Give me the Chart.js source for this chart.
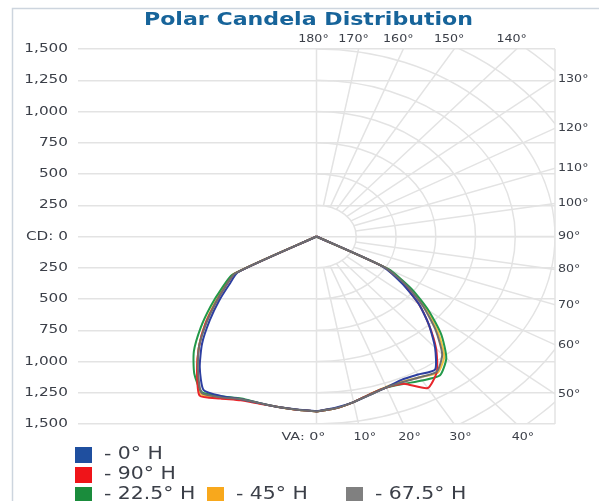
<!DOCTYPE html>
<html>
<head>
<meta charset="utf-8">
<title>Polar Candela Distribution</title>
<script src="https://cdn.jsdelivr.net/npm/chart.js@4.4.0/dist/chart.umd.min.js"></script>
<style>
  html, body { margin: 0; padding: 0; background: #fff; }
  #wrap { width: 599px; height: 501px; position: relative; }
</style>
</head>
<body>
<div id="wrap"><canvas id="polarChart"></canvas></div>
<script>
// Vertical angles (deg from nadir) and candela values
const vertAngles = [0, 5, 10, 15, 20, 25, 30, 35, 40, 45, 50, 55, 60, 65, 70, 75, 80, 85, 90];

// right half = the named plane, left half = the opposite plane
const cd0HRight = [1398, 1375, 1345, 1310, 1285, 1265, 1275, 1300, 1160, 1000, 840, 660, 480, 0, 0, 0, 0, 0, 0];
const cd0HLeft = [1398, 1390, 1385, 1380, 1385, 1410, 1420, 1280, 1120, 950, 800, 670, 570, 0, 0, 0, 0, 0, 0];
const cd90HRight = [1400, 1380, 1345, 1305, 1285, 1300, 1400, 1320, 1170, 1000, 840, 670, 490, 0, 0, 0, 0, 0, 0];
const cd90HLeft = [1400, 1392, 1385, 1385, 1395, 1430, 1470, 1310, 1150, 990, 830, 700, 590, 0, 0, 0, 0, 0, 0];
const cd225HRight = [1400, 1380, 1345, 1305, 1285, 1300, 1330, 1355, 1270, 1110, 920, 730, 520, 0, 0, 0, 0, 0, 0];
const cd225HLeft = [1400, 1392, 1385, 1380, 1380, 1410, 1440, 1340, 1200, 1030, 870, 730, 610, 0, 0, 0, 0, 0, 0];
const cd45HRight = [1400, 1380, 1345, 1305, 1280, 1280, 1300, 1330, 1250, 1080, 900, 710, 510, 0, 0, 0, 0, 0, 0];
const cd45HLeft = [1400, 1392, 1385, 1382, 1388, 1425, 1455, 1310, 1150, 990, 840, 710, 600, 0, 0, 0, 0, 0, 0];
const cd675HRight = [1400, 1380, 1345, 1310, 1285, 1285, 1300, 1320, 1230, 1060, 880, 700, 500, 0, 0, 0, 0, 0, 0];
const cd675HLeft = [1400, 1392, 1385, 1380, 1385, 1420, 1445, 1300, 1150, 980, 830, 700, 590, 0, 0, 0, 0, 0, 0];

// axis labels
const cdTicks = [-1500, -1250, -1000, -750, -500, -250, 0, 250, 500, 750, 1000, 1250, 1500];
const gridAngles = [10, 20, 30, 40, 50, 60, 70, 80, 90, 100, 110, 120, 130, 140, 150, 160, 170];
const labelAngles = [0, 10, 20, 30, 40, 50, 60, 70, 80, 90, 100, 110, 120, 130, 140, 150, 160, 170, 180];
const ringValues = [250, 500, 750, 1000, 1250, 1500, 1750, 2000, 2250];

const FONT = "'DejaVu Sans', Verdana, sans-serif";
const GRID = "#e3e3e3";
const LABEL = "#3b3f48";
// the source picture is stretched sideways, text too
const STRETCH = 1.27;

const rad = (d) => d * Math.PI / 180;

// left half runs 90 -> 0, right half 0 -> 90
function toPoints(left, right) {
  const pts = [];
  for (let i = vertAngles.length - 1; i >= 0; i--) {
    const a = rad(vertAngles[i]);
    pts.push({ x: -left[i] * Math.sin(a), y: -left[i] * Math.cos(a) });
  }
  for (let i = 0; i < vertAngles.length; i++) {
    const a = rad(vertAngles[i]);
    pts.push({ x: right[i] * Math.sin(a), y: -right[i] * Math.cos(a) });
  }
  return pts;
}

function wideText(ctx, text, x, y, align, sx) {
  ctx.save();
  ctx.translate(x, y);
  ctx.scale(sx, 1);
  ctx.textAlign = align;
  ctx.fillText(text, 0, 0);
  ctx.restore();
}

const series = [
  { label: "- 67.5° H", color: "#6e6e6e", left: cd675HLeft, right: cd675HRight },
  { label: "- 0° H", color: "#2d3fa0", left: cd0HLeft, right: cd0HRight },
  { label: "- 90° H", color: "#e8262b", left: cd90HLeft, right: cd90HRight },
  { label: "- 22.5° H", color: "#23994a", left: cd225HLeft, right: cd225HRight },
  { label: "- 45° H", color: "#f2c040", left: cd45HLeft, right: cd45HRight },
];

// legend layout (rows as in the picture)
const legendItems = [
  { name: "- 0° H", color: "#1f4f9f", x: 75, y: 455 },
  { name: "- 90° H", color: "#ef1419", x: 75, y: 475 },
  { name: "- 22.5° H", color: "#1a8c3c", x: 75, y: 495 },
  { name: "- 45° H", color: "#f8a81c", x: 207, y: 495 },
  { name: "- 67.5° H", color: "#808080", x: 346, y: 495 },
];

// polar grid, labels, title, legend and frame
const polarDecor = {
  id: "polarDecor",
  beforeDatasetsDraw(chart) {
    const { ctx, chartArea, scales } = chart;
    const xs = scales.x, ys = scales.y;
    const cx = xs.getPixelForValue(0), cy = ys.getPixelForValue(0);
    ctx.save();
    ctx.beginPath();
    ctx.rect(chartArea.left, chartArea.top, chartArea.right - chartArea.left, chartArea.bottom - chartArea.top);
    ctx.clip();
    ctx.strokeStyle = GRID;
    ctx.lineWidth = 1.5;
    // rings (right half only)
    ringValues.forEach((r) => {
      const rx = xs.getPixelForValue(r) - cx;
      const ry = cy - ys.getPixelForValue(r);
      ctx.beginPath();
      ctx.ellipse(cx, cy, rx, ry, 0, -Math.PI / 2, Math.PI / 2);
      ctx.stroke();
    });
    // spokes
    gridAngles.forEach((d) => {
      const a = rad(d);
      ctx.beginPath();
      ctx.moveTo(xs.getPixelForValue(250 * Math.sin(a)), ys.getPixelForValue(-250 * Math.cos(a)));
      ctx.lineTo(xs.getPixelForValue(3000 * Math.sin(a)), ys.getPixelForValue(-3000 * Math.cos(a)));
      ctx.stroke();
    });
    ctx.restore();
    // center vertical and right border
    ctx.save();
    ctx.strokeStyle = GRID;
    ctx.lineWidth = 1.5;
    ctx.beginPath();
    ctx.moveTo(cx, chartArea.top);
    ctx.lineTo(cx, chartArea.bottom);
    ctx.moveTo(chartArea.right, chartArea.top);
    ctx.lineTo(chartArea.right, chartArea.bottom);
    ctx.stroke();
    ctx.restore();
  },
  afterDraw(chart) {
    const { ctx, chartArea, scales } = chart;
    const xs = scales.x, ys = scales.y;
    const cx = xs.getPixelForValue(0), cy = ys.getPixelForValue(0);
    const kx = (xs.getPixelForValue(1000) - cx) / 1000;
    const ky = (ys.getPixelForValue(-1000) - cy) / 1000;

    ctx.save();
    // outer frame
    ctx.strokeStyle = "#cdd5de";
    ctx.lineWidth = 1.5;
    ctx.beginPath();
    ctx.moveTo(12.5, 501);
    ctx.lineTo(12.5, 8.5);
    ctx.lineTo(599, 8.5);
    ctx.stroke();

    ctx.textBaseline = "middle";

    // title
    ctx.fillStyle = "#17649a";
    ctx.font = "bold 17px " + FONT;
    wideText(ctx, "Polar Candela Distribution", cx - 8, 21, "center", 1.3);

    // candela labels on the left
    ctx.fillStyle = LABEL;
    ctx.font = "12px " + FONT;
    cdTicks.forEach((v) => {
      const txt = v === 0 ? "CD: 0" : Math.abs(v).toLocaleString("en-US");
      wideText(ctx, txt, chartArea.left - 10, ys.getPixelForValue(v), "right", STRETCH);
    });

    // angle labels where each spoke meets the frame
    ctx.font = "11px " + FONT;
    labelAngles.forEach((d) => {
      const a = rad(d);
      const dx = Math.sin(a) * kx, dy = Math.cos(a) * ky;
      let t = Infinity, side = "";
      if (dx > 1e-6) { const tr = (chartArea.right - cx) / dx; if (tr < t) { t = tr; side = "right"; } }
      if (dy > 1e-6) { const tb = (chartArea.bottom - cy) / dy; if (tb < t) { t = tb; side = "bottom"; } }
      if (dy < -1e-6) { const tt = (chartArea.top - cy) / dy; if (tt < t) { t = tt; side = "top"; } }
      const hx = cx + dx * t, hy = cy + dy * t;
      if (side === "right") {
        wideText(ctx, d + "°", chartArea.right + 3, hy, "left", 1.15);
      } else if (side === "bottom") {
        if (d === 0) {
          wideText(ctx, "VA: 0°", hx + 9, chartArea.bottom + 13, "right", 1.3);
        } else {
          wideText(ctx, d + "°", hx - 5, chartArea.bottom + 13, "left", 1.15);
        }
      } else {
        wideText(ctx, d + "°", d === 180 ? hx - 3 : hx - 5, chartArea.top - 10, "center", 1.15);
      }
    });

    // legend
    ctx.font = "17px " + FONT;
    legendItems.forEach((it) => {
      ctx.fillStyle = it.color;
      ctx.fillRect(it.x, it.y - 8, 17, 16);
      ctx.fillStyle = LABEL;
      wideText(ctx, it.name, it.x + 29, it.y, "left", 1.2);
    });
    ctx.restore();
  },
};

const ctx = document.getElementById("polarChart").getContext("2d");
const polarChart = new Chart(ctx, {
  type: "scatter",
  data: {
    datasets: series.map((s) => ({
      label: s.label,
      data: toPoints(s.left, s.right),
      showLine: true,
      borderColor: s.color,
      backgroundColor: s.color,
      borderWidth: 2,
      pointRadius: 0,
      tension: 0.2,
      fill: false,
    })),
  },
  options: {
    responsive: true,
    maintainAspectRatio: false,
    animation: false,
    layout: { padding: { top: 49, right: 44, bottom: 77, left: 0 } },
    scales: {
      x: {
        type: "linear",
        min: -1500,
        max: 1500,
        display: false,
      },
      y: {
        type: "linear",
        min: -1500,
        max: 1500,
        afterFit: function (scale) {
          scale.width = 78;
        },
        afterBuildTicks: function (scale) {
          scale.ticks = cdTicks.map((v) => ({ value: v }));
        },
        ticks: { display: false },
        grid: {
          color: GRID,
          lineWidth: 1.5,
          drawTicks: false,
        },
        border: { display: false },
      },
    },
    plugins: {
      legend: { display: false },
      tooltip: { enabled: false },
    },
  },
  plugins: [polarDecor],
});
</script>
</body>
</html>
